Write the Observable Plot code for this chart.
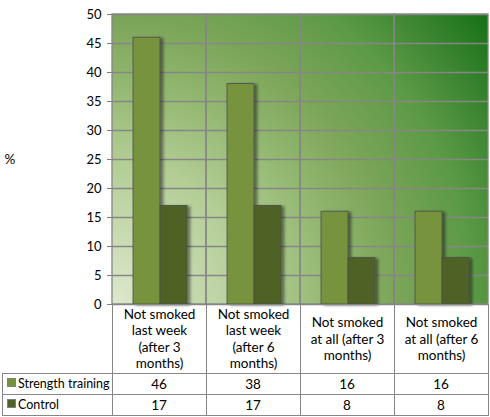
<!DOCTYPE html>
<html>
<head>
<meta charset="utf-8">
<script src="https://cdn.jsdelivr.net/npm/d3@7"></script>
<script src="https://cdn.jsdelivr.net/npm/@observablehq/plot@0.6"></script>
<style>
  body { margin: 0; background: #fff; }
  #chart g[aria-label="bar"] { filter: url(#barShadow); }
</style>
</head>
<body>
<div id="chart"></div>
<script>
// categories and values
const categories = ["lw3", "lw6", "aa3", "aa6"];
const categoryLabels = [
  "Not smoked\nlast week\n(after 3\nmonths)",
  "Not smoked\nlast week\n(after 6\nmonths)",
  "Not smoked\nat all (after 3\nmonths)",
  "Not smoked\nat all (after 6\nmonths)"
];
const seriesNames = ["Strength training", "Control"];
const strength = [46, 38, 16, 16];
const control = [17, 17, 8, 8];
const yTicks = d3.range(0, 51, 5);
const colors = ["#77933c", "#4f6228"];

const strengthData = categories.map((c, i) => ({cat: c, value: strength[i]}));
const controlData = categories.map((c, i) => ({cat: c, value: control[i]}));

const gridColor = "#868686";

// gradient background of the plot area (plus the bar shadow filter)
function background(index, {x, y}, values, dims) {
  const g = d3.create("svg:g");
  const x0 = dims.marginLeft, x1 = dims.width - dims.marginRight;
  const y0 = dims.height - dims.marginBottom, y1 = dims.marginTop;
  const defs = g.append("defs");
  const grad = defs.append("radialGradient")
    .attr("id", "plotBg")
    .attr("gradientUnits", "userSpaceOnUse")
    .attr("cx", x0).attr("cy", y0)
    .attr("r", Math.hypot(x1 - x0, y0 - y1));
  [[0, "#dce8cc"], [0.3, "#b3cd95"], [0.45, "#95b973"], [0.6, "#7ba558"],
   [0.76, "#5c9a45"], [0.88, "#3a8430"], [1, "#157015"]]
    .forEach(([o, c]) => grad.append("stop").attr("offset", o).attr("stop-color", c));
  const f = defs.append("filter").attr("id", "barShadow")
    .attr("x", "-20%").attr("y", "-20%").attr("width", "160%").attr("height", "140%");
  f.append("feDropShadow").attr("dx", 3).attr("dy", 1).attr("stdDeviation", 1.5)
    .attr("flood-color", "#000").attr("flood-opacity", 0.45);
  g.append("rect").attr("x", x0).attr("y", y1)
    .attr("width", x1 - x0).attr("height", y0 - y1)
    .attr("fill", "url(#plotBg)");
  return g.node();
}

// data table under the plot
function dataTable(index, {x, y}, values, dims) {
  const g = d3.create("svg:g")
    .attr("font-family", "Lato, sans-serif")
    .attr("font-size", 13.5)
    .attr("fill", "black");
  const bw = typeof x.bandwidth === "function" ? x.bandwidth() : x.bandwidth;
  const top = Math.round(y(0)) + 0.5;
  const headH = 69, rowH = 21;
  const right = dims.width - dims.marginRight + 0.5;
  categories.forEach((c, i) => {
    const cx = Math.round(x(c)) + 0.5;
    g.append("rect").attr("x", cx).attr("y", top)
      .attr("width", bw).attr("height", headH + 2 * rowH)
      .attr("fill", "none").attr("stroke", gridColor);
    const lines = categoryLabels[i].split("\n");
    const t = g.append("text").attr("text-anchor", "middle");
    lines.forEach((l, j) => t.append("tspan")
      .attr("x", cx + bw / 2)
      .attr("y", top + headH / 2 + (j - (lines.length - 1) / 2) * 16.5)
      .attr("dy", "0.35em")
      .text(l));
  });
  [strength, control].forEach((vals, r) => {
    const ry = top + headH + r * rowH;
    g.append("rect").attr("x", 2.5).attr("y", ry)
      .attr("width", right - 2.5).attr("height", rowH)
      .attr("fill", "none").attr("stroke", gridColor);
    g.append("rect").attr("x", 7.5).attr("y", ry + 5)
      .attr("width", 8).attr("height", 8)
      .attr("fill", colors[r]).attr("stroke", "#7f7f7f");
    g.append("text").attr("text-anchor", "start").attr("font-size", 12.5)
      .attr("x", 18).attr("y", ry + rowH / 2).attr("dy", "0.35em")
      .text(seriesNames[r]);
    categories.forEach((c, i) => {
      g.append("text").attr("text-anchor", "middle")
        .attr("x", x(c) + bw / 2).attr("y", ry + rowH / 2).attr("dy", "0.35em")
        .text(vals[i]);
    });
  });
  return g.node();
}

const chart = Plot.plot({
  width: 490,
  height: 417,
  marginLeft: 112,
  marginRight: 2,
  marginTop: 14,
  marginBottom: 113,
  x: {domain: categories, padding: 0, axis: null},
  y: {domain: [0, 50], axis: null},
  style: {fontFamily: "Lato, sans-serif", fontSize: "13px", background: "white", color: "black", overflow: "visible"},
  marks: [
    background,
    Plot.gridY(yTicks, {stroke: gridColor, strokeOpacity: 1, strokeWidth: 1.3}),
    Plot.cell(categories, {x: d => d, fill: "none", stroke: gridColor, strokeWidth: 1.3, inset: 0}),
    Plot.barY(strengthData, {x: "cat", y: "value", fill: colors[0], stroke: "#4d4d4d", strokeWidth: 0.8, insetLeft: 21, insetRight: 46}),
    Plot.barY(controlData, {x: "cat", y: "value", fill: colors[1], stroke: "#4d4d4d", strokeWidth: 0.8, insetLeft: 48, insetRight: 19}),
    Plot.axisY(yTicks, {tickSize: 5, tickPadding: 6, stroke: "#7f7f7f", fill: "black", fontSize: 13, label: null}),
    Plot.text(["%"], {frameAnchor: "left", textAnchor: "start", dx: -108, fontSize: 13.5, text: d => d}),
    dataTable
  ]
});

d3.select("#chart").append(() => chart);
</script>
</body>
</html>
